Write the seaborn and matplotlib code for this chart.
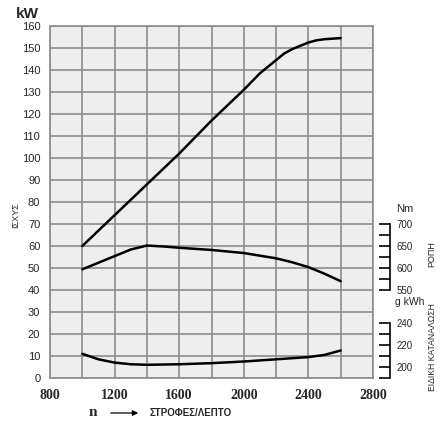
import matplotlib
matplotlib.use("Agg")
import matplotlib.pyplot as plt
import matplotlib.ticker as mticker
from matplotlib.patches import FancyArrowPatch
import pandas as pd
import seaborn as sns

# engine curves
rpm_power = [1000, 1200, 1400, 1600, 1800, 2000, 2100, 2200, 2250, 2300, 2350, 2400, 2450, 2500, 2600]
power_kw = [60, 74, 88, 102, 117, 131, 138.5, 144.5, 147.5, 149.5, 151, 152.5, 153.5, 154, 154.5]

rpm_torque = [1000, 1200, 1300, 1400, 1500, 1600, 1800, 2000, 2200, 2300, 2400, 2500, 2600]
torque_nm = [597, 627, 642, 651, 649, 646, 641, 634, 622, 613, 602, 587, 570]

rpm_fuel = [1000, 1100, 1200, 1300, 1400, 1600, 1800, 2000, 2200, 2400, 2500, 2600]
fuel_gkwh = [212, 207, 204, 202.5, 202, 202.5, 203.5, 205, 207, 209, 211, 215]

x_labels = [800, 1200, 1600, 2000, 2400, 2800]
kw_ticks = list(range(0, 161, 10))
nm_ticks = [550, 600, 650, 700]
fuel_ticks = [200, 220, 240]

sns.set_style("white")
plt.rcParams["font.family"] = ["Liberation Sans Narrow", "Liberation Sans", "DejaVu Sans"]

W, H = 448, 430
fig = plt.figure(figsize=(W / 100, H / 100), dpi=100)


def px(x, y):
    return x / W, 1 - y / H


ax = fig.add_axes([50 / W, 1 - 378 / H, 323 / W, 352 / H])
ax.set_facecolor("#eeeeee")

power_df = pd.DataFrame({"rpm": rpm_power, "kw": power_kw})
sns.lineplot(data=power_df, x="rpm", y="kw", ax=ax, color="black", lw=1.8)

ax.set_xlim(800, 2800)
ax.set_ylim(0, 160)
ax.set_xticks(x_labels)
ax.set_xticks([1000, 1400, 1800, 2200, 2600], minor=True)
ax.set_yticks(kw_ticks)
ax.set_xticklabels([str(v) for v in x_labels], fontfamily="Liberation Serif",
                   fontweight="bold", fontsize=10)
ax.set_yticklabels([str(v) for v in kw_ticks], fontsize=8)
ax.tick_params(axis="both", which="both", length=0)
ax.tick_params(axis="x", pad=8)
ax.tick_params(axis="y", pad=7)
ax.grid(True, which="both", color="#8c8c8c", lw=1.2)
ax.set_axisbelow(True)
ax.set_xlabel("")
ax.set_ylabel("")
for s in ax.spines.values():
    s.set_color("#8c8c8c")
    s.set_linewidth(1.2)

# torque on its own scale: 550 Nm sits at 40 kW, 50 Nm per 10 kW
ax_t = ax.twinx()
torque_df = pd.DataFrame({"rpm": rpm_torque, "nm": torque_nm})
sns.lineplot(data=torque_df, x="rpm", y="nm", ax=ax_t, color="black", lw=1.8)
ax_t.set_ylim(350, 1150)

# specific fuel consumption: 190 g/kWh at 0 kW, 2 g/kWh per kW
ax_f = ax.twinx()
fuel_df = pd.DataFrame({"rpm": rpm_fuel, "g": fuel_gkwh})
sns.lineplot(data=fuel_df, x="rpm", y="g", ax=ax_f, color="black", lw=1.8)
ax_f.set_ylim(190, 510)

for a, lo, hi, major, minor in [(ax_t, 550, 700, nm_ticks, [575, 625, 675]),
                                (ax_f, 190, 240, fuel_ticks, [190, 210, 230])]:
    for side in ["top", "left", "bottom"]:
        a.spines[side].set_visible(False)
    a.spines["right"].set_position(("outward", 12))
    a.spines["right"].set_bounds(lo, hi)
    a.spines["right"].set_color("black")
    a.spines["right"].set_linewidth(1.2)
    a.yaxis.set_major_locator(mticker.FixedLocator(major))
    a.yaxis.set_minor_locator(mticker.FixedLocator(minor))
    a.set_yticklabels([str(v) for v in major], fontsize=7)
    a.tick_params(axis="y", which="both", direction="in", length=8, width=1.2,
                  color="black", pad=5)
    a.set_ylabel("")
    a.grid(False)

fig.text(*px(16, 14), "kW", fontsize=11, fontweight="bold",
         fontfamily=["Liberation Sans", "DejaVu Sans"], va="center", ha="left")
fig.text(*px(16, 215), "ΙΣΧΥΣ", fontsize=6.5, rotation=90, va="center", ha="center")
fig.text(*px(396, 209), "Nm", fontsize=8, va="center", ha="left")
fig.text(*px(395, 302), "g kWh", fontsize=7.5, va="center", ha="left")
fig.text(*px(432, 254), "ΡΟΠΗ", fontsize=6.5, rotation=90, va="center", ha="center")
fig.text(*px(432, 347), "ΕΙΔΙΚΗ ΚΑΤΑΝΑΛΩΣΗ", fontsize=6.2, rotation=90,
         va="center", ha="center")

fig.text(*px(93, 413), "n", fontsize=11, fontweight="bold",
         fontfamily="Liberation Serif", va="center", ha="center")
fig.add_artist(FancyArrowPatch(
    px(108, 413), px(141, 413), transform=fig.transFigure,
    arrowstyle="-|>", mutation_scale=8, color="black", lw=0.9))
fig.text(*px(150, 413), "ΣΤΡΟΦΕΣ/ΛΕΠΤΟ", fontsize=7, fontweight="bold",
         fontfamily=["Liberation Sans", "DejaVu Sans"], va="center", ha="left")

fig.savefig("out.png", dpi=100)
